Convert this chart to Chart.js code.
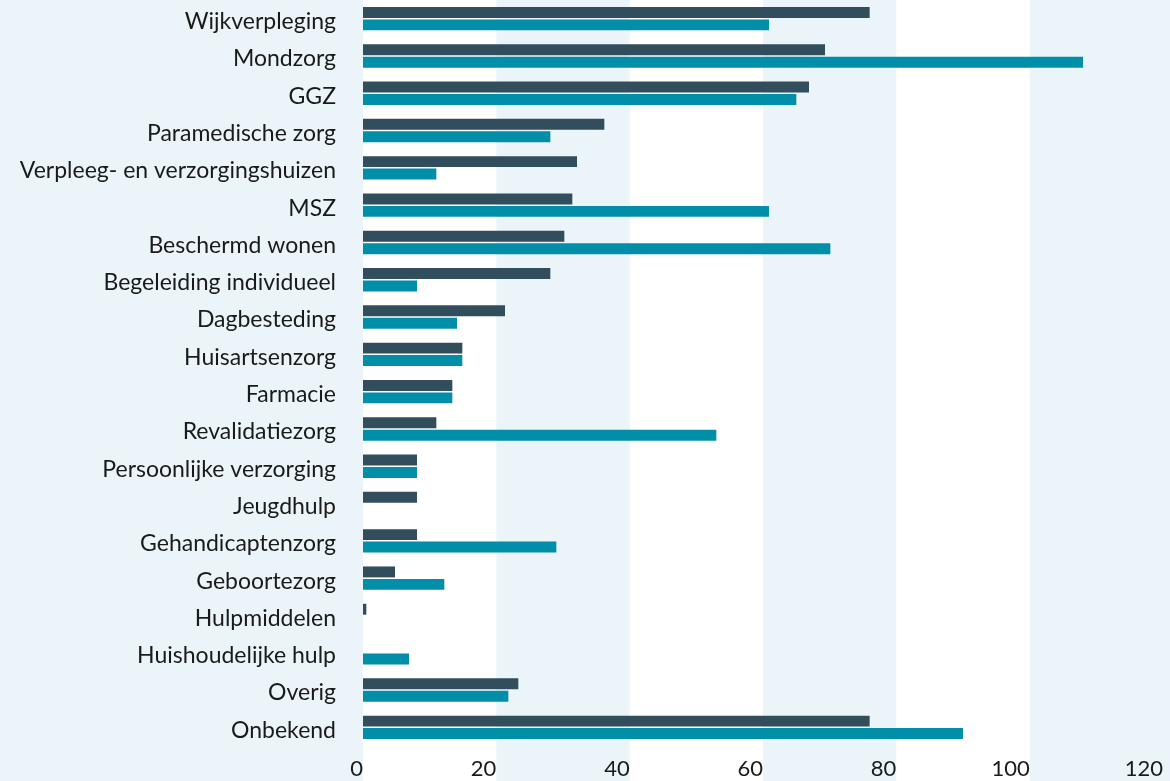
<!DOCTYPE html>
<html lang="nl">
<head>
<meta charset="utf-8">
<script src="https://cdn.jsdelivr.net/npm/chart.js@4.4.1/dist/chart.umd.min.js"></script>
<style>
    html, body { margin: 0; padding: 0; background: #ebf5f9; }
    #wrap { width: 1170px; height: 781px; }
</style>
</head>
<body>
<div id="wrap"><canvas id="zorgChart"></canvas></div>
<script>
// Categorieën (van boven naar beneden)
const categories = [
    "Wijkverpleging", "Mondzorg", "GGZ", "Paramedische zorg",
    "Verpleeg- en verzorgingshuizen", "MSZ", "Beschermd wonen",
    "Begeleiding individueel", "Dagbesteding", "Huisartsenzorg", "Farmacie",
    "Revalidatiezorg", "Persoonlijke verzorging", "Jeugdhulp",
    "Gehandicaptenzorg", "Geboortezorg", "Hulpmiddelen",
    "Huishoudelijke hulp", "Overig", "Onbekend"
];

// Waarden
const seriesDark = [76.0, 69.3, 66.9, 36.2, 32.1, 31.4, 30.2, 28.1, 21.3, 14.9,
                    13.4, 11.0, 8.1, 8.1, 8.1, 4.8, 0.5, 0, 23.3, 76.0];
const seriesTeal = [60.9, 108.0, 65.0, 28.1, 11.0, 60.9, 70.1, 8.1, 14.1, 14.9,
                    13.4, 53.0, 8.1, 0, 29.0, 12.2, 0, 6.9, 21.8, 90.0];

// As-instellingen
const axisMin = 0;
const axisMax = 120;
const axisStep = 20;
const whiteBands = [[0, 20], [40, 60], [80, 100]];

// Plugin voor de witte achtergrondbanden
const bandPlugin = {
    id: 'bands',
    beforeDraw(chart) {
        const ctx = chart.ctx;
        const x = chart.scales.x;
        ctx.save();
        ctx.fillStyle = '#ffffff';
        whiteBands.forEach(([a, b]) => {
            const x1 = x.getPixelForValue(a);
            const x2 = x.getPixelForValue(b);
            ctx.fillRect(x1, 0, x2 - x1, chart.height);
        });
        ctx.restore();
    }
};

const ctx = document.getElementById('zorgChart').getContext('2d');
const chart = new Chart(ctx, {
    type: 'bar',
    data: {
        labels: categories,
        datasets: [
            {
                label: 'Reeks 1',
                data: seriesDark,
                backgroundColor: '#324e5c',
                categoryPercentage: 0.667,
                barPercentage: 0.88,
            },
            {
                label: 'Reeks 2',
                data: seriesTeal,
                backgroundColor: '#008ea8',
                categoryPercentage: 0.667,
                barPercentage: 0.88,
            },
        ],
    },
    options: {
        indexAxis: 'y',
        responsive: true,
        maintainAspectRatio: false,
        animation: false,
        layout: {
            padding: { left: 0, right: 7, top: 0, bottom: 0 },
        },
        plugins: {
            legend: { display: false },
            tooltip: { enabled: false },
        },
        scales: {
            x: {
                min: axisMin,
                max: axisMax,
                grid: { display: false, drawTicks: false },
                border: { display: false },
                ticks: {
                    stepSize: axisStep,
                    padding: 10,
                    align: 'end',
                    color: '#1a1a1a',
                    font: { family: 'Lato', size: 22 },
                },
                afterFit(scale) {
                    scale.height = 35;
                    scale.paddingLeft = 0;
                    scale.paddingRight = 0;
                },
            },
            y: {
                grid: { display: false, drawTicks: false },
                border: { display: false },
                ticks: {
                    padding: 27,
                    labelOffset: 3,
                    autoSkip: false,
                    color: '#1a1a1a',
                    font: { family: 'Lato', size: 23 },
                },
                afterFit(scale) {
                    scale.width = 363;
                    scale.paddingTop = 0;
                    scale.paddingBottom = 0;
                },
            },
        },
    },
    plugins: [bandPlugin],
});
</script>
</body>
</html>
